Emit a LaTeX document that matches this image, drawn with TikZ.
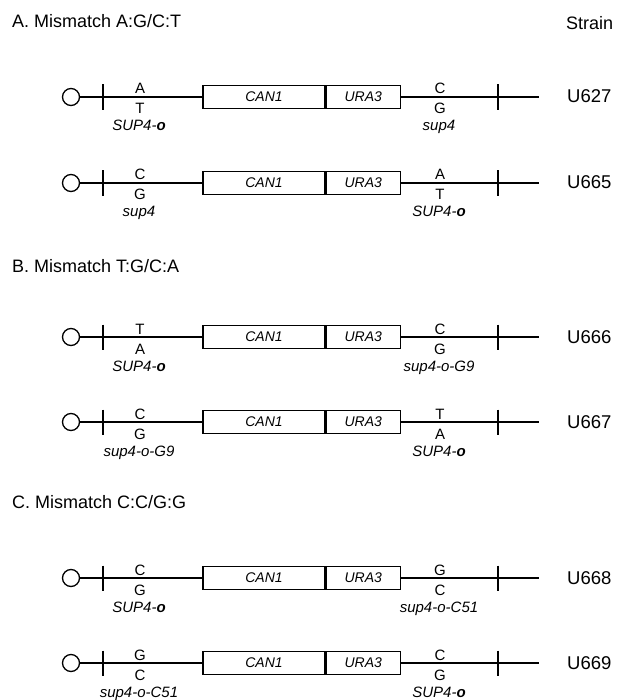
\documentclass[tikz,border=0pt]{standalone}
\usepackage{fontspec}
\setmainfont{Liberation Sans}
\newcommand\generow[9]{%
  \node[endcirc] (c#2) at (71,#1) {};
  \node[genebox] (can#2) at (264,#1) {CAN1};
  \node[genebox, minimum width=74pt, anchor=west] (ura#2) at (can#2.east) {URA3};
  \coordinate (tl#2) at (103,#1);
  \coordinate (tr#2) at (498,#1);
  \coordinate (e#2) at (539,#1);
  \draw[dnaline] (c#2) -- (can#2);
  \draw[dnaline] (ura#2) -- (e#2);
  \draw[tickline] ([yshift=12.5pt]tl#2) -- ([yshift=-13pt]tl#2);
  \draw[tickline] ([yshift=12.5pt]tr#2) -- ([yshift=-13pt]tr#2);
  \node[basetxt] (lt#2) at (140,#1-3) {#3};
  \node[basetxt] (lb#2) at (140,#1+17) {#4};
  \node[genetxt] (lg#2) at (139,#1+34) {#5};
  \node[basetxt] (rt#2) at (440,#1-3) {#6};
  \node[basetxt] (rb#2) at (440,#1+17) {#7};
  \node[genetxt] (rg#2) at (439,#1+34) {#8};
  \node[straintxt] (s#2) at (567,#1+6) {#9};
}
\begin{document}
\begin{tikzpicture}[x=1pt,y=-1pt,
  endcirc/.style={circle, draw, line width=1.3pt, minimum size=17pt, inner sep=0pt},
  genebox/.style={draw, line width=1.3pt, minimum width=122pt, minimum height=23pt, inner sep=0pt,
    font=\fontsize{14}{14}\selectfont\itshape},
  dnaline/.style={line width=1.2pt},
  tickline/.style={line width=1.2pt},
  basetxt/.style={anchor=base, inner sep=0pt, font=\fontsize{15}{15}\selectfont},
  genetxt/.style={anchor=base, inner sep=0pt, font=\fontsize{15}{15}\selectfont\itshape},
  straintxt/.style={anchor=base west, inner sep=0pt, font=\fontsize{18.5}{18.5}\selectfont},
  heading/.style={anchor=base west, inner sep=0pt, font=\fontsize{18}{18}\selectfont}]
\useasboundingbox (0,0) rectangle (617,700);
\node[heading] (hA) at (12,28) {A. Mismatch A:G/C:T};
\node[heading] (hS) at (566,30) {Strain};
\generow{97}{r1}{A}{T}{SUP4-\textbf{o}}{C}{G}{sup4}{U627}
\generow{183}{r2}{C}{G}{sup4}{A}{T}{SUP4-\textbf{o}}{U665}
\node[heading] (hB) at (12,272) {B. Mismatch T:G/C:A};
\generow{337}{r3}{T}{A}{SUP4-\textbf{o}}{C}{G}{sup4-o-G9}{U666}
\generow{422}{r4}{C}{G}{sup4-o-G9}{T}{A}{SUP4-\textbf{o}}{U667}
\node[heading] (hC) at (12,508) {C. Mismatch C:C/G:G};
\generow{578}{r5}{C}{G}{SUP4-\textbf{o}}{G}{C}{sup4-o-C51}{U668}
\generow{663}{r6}{G}{C}{sup4-o-C51}{C}{G}{SUP4-\textbf{o}}{U669}
\end{tikzpicture}
\end{document}
